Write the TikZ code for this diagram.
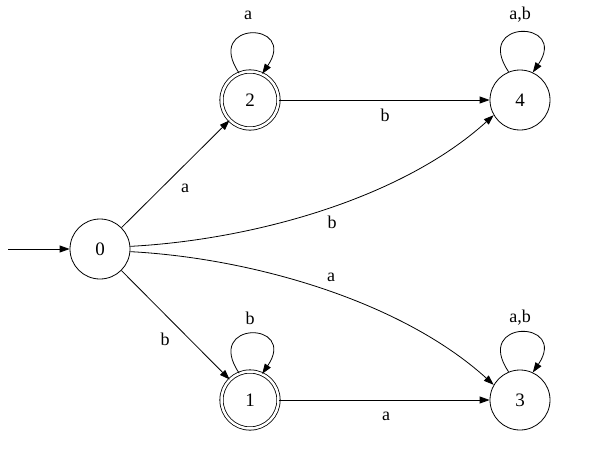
\documentclass[tikz,border=0pt]{standalone}
\usepackage{fontspec}
\setmainfont{Liberation Serif}
\usetikzlibrary{arrows.meta}
\begin{document}
\begin{tikzpicture}[x=1pt,y=-1pt,
  state/.style={circle,draw,line width=0.8pt,minimum size=60pt,inner sep=0pt,font=\fontsize{19}{22}\selectfont},
  accept/.style={state,double,double distance=2.5pt,minimum size=57pt},
  edge/.style={-{Triangle[length=10pt,width=7pt]},line width=0.8pt},
  lab/.style={font=\fontsize{18}{21}\selectfont,inner sep=1pt}]
\useasboundingbox (0,0) rectangle (615,460);
\node[state] (n0) at (100,249) {0};
\node[accept] (n2) at (250,100) {2};
\node[state] (n4) at (520,100) {4};
\node[accept] (n1) at (250,400) {1};
\node[state] (n3) at (520,400) {3};
\coordinate (init) at (8,249);
\draw[edge] (init) -- (n0);
\draw[edge] (n0) -- (n2);
\draw[edge] (n0) -- (n1);
\draw[edge] (n2) -- (n4);
\draw[edge] (n1) -- (n3);
\draw[edge] (n0.5) .. controls (250,240) and (400,200) .. (n4.-150);
\draw[edge] (n0.-5) .. controls (250,258) and (400,300) .. (n3.150);
\draw[edge] (n2.112) .. controls +(-36,-53) and +(36,-53) .. (n2.65);
\draw[edge] (n4.112) .. controls +(-36,-53) and +(36,-53) .. (n4.65);
\draw[edge] (n1.112) .. controls +(-36,-53) and +(36,-53) .. (n1.65);
\draw[edge] (n3.112) .. controls +(-36,-53) and +(36,-53) .. (n3.65);
\node[lab] (l2) at (248,15) {a};
\node[lab] (l4) at (520,15) {a,b};
\node[lab] (l1) at (250,318) {b};
\node[lab] (l3) at (520,318) {a,b};
\node[lab] (e24) at (385,115) {b};
\node[lab] (e02) at (185,188) {a};
\node[lab] (e04) at (332,222) {b};
\node[lab] (e03) at (331,277) {a};
\node[lab] (e01) at (165,339) {b};
\node[lab] (e13) at (386,416) {a};
\end{tikzpicture}
\end{document}
